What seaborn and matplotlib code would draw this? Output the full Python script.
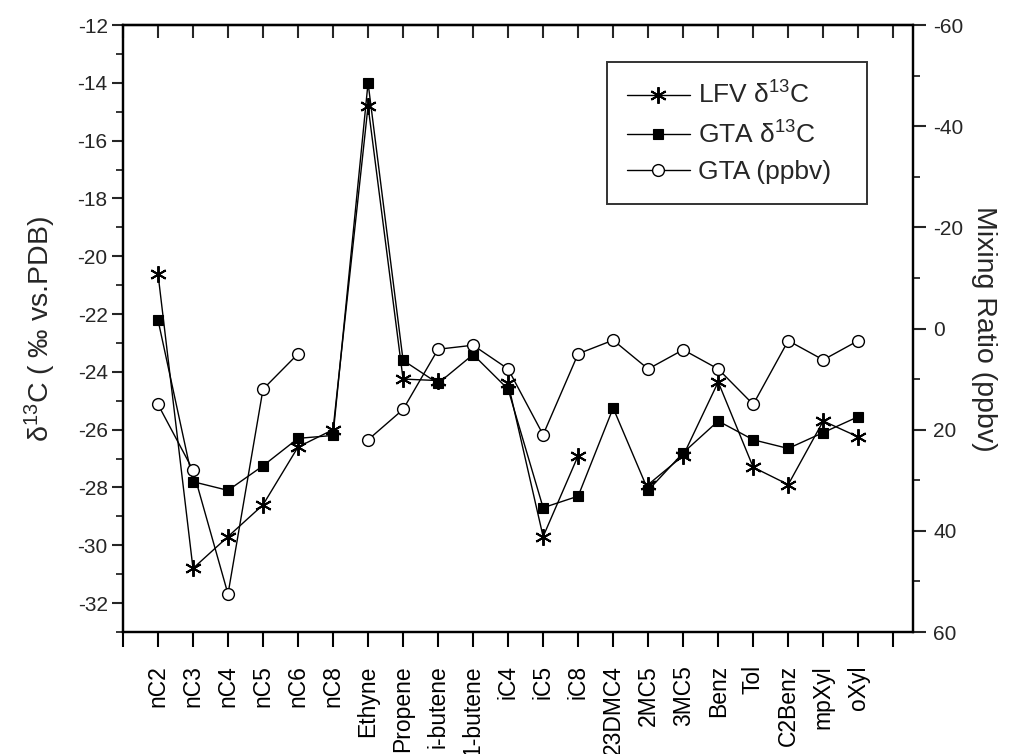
import numpy as np
import pandas as pd
import matplotlib
matplotlib.use('Agg')
import matplotlib.pyplot as plt
from matplotlib.lines import Line2D
from matplotlib.ticker import MultipleLocator
import seaborn as sns

sns.set_style('ticks')
plt.rcParams['font.family'] = ['Liberation Sans', 'DejaVu Sans']
plt.rcParams['mathtext.default'] = 'regular'
plt.rcParams['axes.unicode_minus'] = False

nan = np.nan

species = ['nC2', 'nC3', 'nC4', 'nC5', 'nC6', 'nC8', 'Ethyne', 'Propene',
           'i-butene', '1-butene', 'iC4', 'iC5', 'iC8', '23DMC4', '2MC5',
           '3MC5', 'Benz', 'Tol', 'C2Benz', 'mpXyl', 'oXyl']

# LFV delta13C (permil), gaps where no value
lfv_d13c = [-20.6, -30.8, -29.7, -28.6, -26.6, -26.0, -14.8, -24.25, -24.3, nan,
            -24.4, -29.7, -26.9, nan, -27.9, -26.9, -24.35, -27.3, -27.9, -25.7, -26.25]
# GTA delta13C (permil)
gta_d13c = [-22.2, -27.8, -28.1, -27.25, -26.3, -26.2, -14.0, -23.6, -24.4, -23.4,
            -24.6, -28.7, -28.3, -25.25, -28.1, -26.8, -25.7, -26.35, -26.65, -26.1, -25.55]
# GTA mixing ratio (ppbv), right axis
gta_ppbv = [15.0, 28.0, 52.5, 12.0, 5.0, nan, 22.0, 16.0, 4.1, 3.3,
            8.0, 21.0, 5.0, 2.3, 8.0, 4.2, 8.0, 15.0, 2.4, 6.2, 2.4]


def segments(values):
    # split series at missing values so the lines break there
    v = np.array(values, dtype=float)
    df = pd.DataFrame({'pos': np.arange(1, len(v) + 1), 'val': v,
                       'seg': np.cumsum(np.isnan(v))})
    return df.dropna()


star = (6, 2, 0)
lfv_style = dict(color='black', marker=star, markersize=12, markeredgewidth=1.4,
                 markeredgecolor='black', linewidth=1.0)
gta_style = dict(color='black', marker='s', markersize=7.5, markeredgewidth=0.8,
                 markeredgecolor='black', markerfacecolor='black', linewidth=1.0)
ppb_style = dict(color='black', marker='o', markersize=8.5, markerfacecolor='white',
                 markeredgecolor='black', markeredgewidth=1.0, linewidth=1.0)

fig = plt.figure(figsize=(10.12, 7.54), dpi=100)
ax = fig.add_axes([0.1215, 0.1618, 0.7802, 0.805])
ax2 = ax.twinx()

sns.lineplot(data=segments(lfv_d13c), x='pos', y='val', units='seg', estimator=None,
             ax=ax, **lfv_style)
sns.lineplot(data=segments(gta_d13c), x='pos', y='val', units='seg', estimator=None,
             ax=ax, **gta_style)
sns.lineplot(data=segments(gta_ppbv), x='pos', y='val', units='seg', estimator=None,
             ax=ax2, **ppb_style)

# left axis
ax.set_xlim(0, 22.55)
ax.set_ylim(-33, -12)
ax.yaxis.set_major_locator(MultipleLocator(2))
ax.yaxis.set_minor_locator(MultipleLocator(1))
ax.set_xticks(range(0, 23))
ax.set_xticklabels([''] + species + [''], rotation=90, fontsize=16.5)
ax.tick_params(axis='x', direction='out', length=11, width=1.5, pad=13, colors='black')
ax.tick_params(axis='y', which='major', direction='out', length=8, width=1.5,
               labelsize=15, pad=3)
ax.tick_params(axis='y', which='minor', direction='out', length=5, width=1.3, left=True)
ax.set_xlabel('')
ax.set_ylabel('δ$^{13}$C ( ‰ vs.PDB)', fontsize=20.5, labelpad=14)

# right axis (inverted)
ax2.set_ylim(60, -60)
ax2.yaxis.set_major_locator(MultipleLocator(20))
ax2.yaxis.set_minor_locator(MultipleLocator(10))
ax2.tick_params(axis='y', which='major', direction='out', length=9, width=1.5,
                labelsize=15, pad=6)
ax2.tick_params(axis='y', which='minor', direction='out', length=5, width=1.3, right=True)
ax2.set_ylabel('Mixing Ratio (ppbv)', fontsize=20.5, rotation=-90, labelpad=24)
ax2.set_xlabel('')

# inward ticks along the top
top = ax.secondary_xaxis('top')
top.set_xticks(range(0, 23))
top.tick_params(direction='in', length=9, width=1.5, labeltop=False)

for a in (ax, ax2):
    for s in a.spines.values():
        s.set_linewidth(1.6)
        s.set_color('black')
for s in top.spines.values():
    s.set_linewidth(1.6)

handles = [Line2D([], [], **lfv_style), Line2D([], [], **gta_style),
           Line2D([], [], **ppb_style)]
labels = ['LFV δ$^{13}$C', 'GTA δ$^{13}$C', 'GTA (ppbv)']
leg = ax2.legend(handles, labels, loc='upper left',
                 bbox_to_anchor=(0.613, 0.703, 0.329, 0.236), mode='expand',
                 borderaxespad=0, fontsize=19, frameon=True, fancybox=False,
                 handlelength=2.4, handletextpad=0.3, labelspacing=0.45,
                 borderpad=0.75, numpoints=1)
leg.get_frame().set_edgecolor('black')
leg.get_frame().set_linewidth(1.4)

fig.savefig('out.png', dpi=100)
